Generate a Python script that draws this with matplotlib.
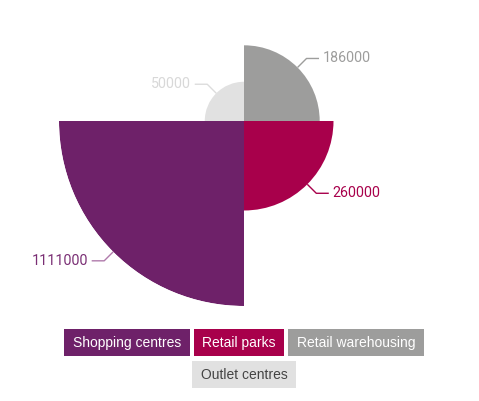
import numpy as np
import matplotlib
matplotlib.use("Agg")
import matplotlib.pyplot as plt
from matplotlib.patches import Rectangle
from matplotlib import font_manager

categories = ["Shopping centres", "Retail parks", "Retail warehousing", "Outlet centres"]
values = [1111000, 260000, 186000, 50000]
colors = ["#6E2169", "#A8004B", "#9D9D9C", "#E1E1E1"]
label_colors = ["#7A2E74", "#A8004B", "#9D9D9C", "#D8D8D8"]
line_colors = ["#B07AAB", "#A8004B", "#9D9D9C", "#DCDCDC"]
legend_text_colors = ["white", "white", "white", "#444444"]
# clockwise slot from 12 o'clock
slots = [2, 1, 0, 3]

W, H = 479, 401
fig = plt.figure(figsize=(W / 100, H / 100), dpi=100)
cx, cy, R = 244, 121, 185
ax = fig.add_axes([(cx - R) / W, (H - cy - R) / H, 2 * R / W, 2 * R / H], projection="polar")
ax.set_theta_zero_location("N")
ax.set_theta_direction(-1)
radii = np.sqrt(np.array(values, dtype=float))
ax.set_ylim(0, radii.max())
ax.axis("off")
width = 2 * np.pi / len(values)
thetas = [(s + 0.5) * width for s in slots]
ax.bar(thetas, radii, width=width, color=colors, edgecolor="none", align="center")

ov = fig.add_axes([0, 0, 1, 1])
ov.set_xlim(0, W)
ov.set_ylim(H, 0)
ov.axis("off")
ov.patch.set_alpha(0)

names = {f.name for f in font_manager.fontManager.ttflist}
if "Liberation Sans Narrow" in names:
    lab_kw = dict(family="Liberation Sans Narrow", fontsize=11.5)
else:
    lab_kw = dict(family=["Roboto", "DejaVu Sans"], fontsize=10.3)

for i, (th, r) in enumerate(zip(thetas, radii)):
    disp = ax.transData.transform((th, r))
    x0, y0 = ov.transData.inverted().transform(disp)
    sx = np.sign(np.sin(th))
    sy = -np.sign(np.cos(th))
    x1, y1 = x0 + 9 * sx, y0 + 9 * sy
    x2 = x1 + 12.5 * sx
    ov.plot([x0, x1, x2], [y0, y1, y1], color=line_colors[i], lw=1, solid_capstyle="butt")
    ov.text(x2 + 3.5 * sx, y1, f"{values[i]}", color=label_colors[i],
            ha="left" if sx > 0 else "right", va="center", **lab_kw)

# legend
renderer = fig.canvas.get_renderer()
leg_font = ["Liberation Sans", "DejaVu Sans"]
fs = 10
pad = 8.5
gap = 4
bh = 27
texts = []
widths = []
for i, c in enumerate(categories):
    t = ov.text(0, 0, c, fontsize=fs, family=leg_font, color=legend_text_colors[i],
                ha="center", va="center", zorder=5)
    texts.append(t)
    bb = t.get_window_extent(renderer)
    widths.append(bb.width + 2 * pad)
rows = [[0, 1, 2], [3]]
row_y = [329, 361]
for ri, row in enumerate(rows):
    total = sum(widths[i] for i in row) + gap * (len(row) - 1)
    x = cx - total / 2
    for i in row:
        ov.add_patch(Rectangle((x, row_y[ri]), widths[i], bh, facecolor=colors[i], edgecolor="none", zorder=4))
        texts[i].set_position((x + widths[i] / 2, row_y[ri] + bh / 2 + 0.5))
        x += widths[i] + gap

fig.savefig("out.png", dpi=100)
